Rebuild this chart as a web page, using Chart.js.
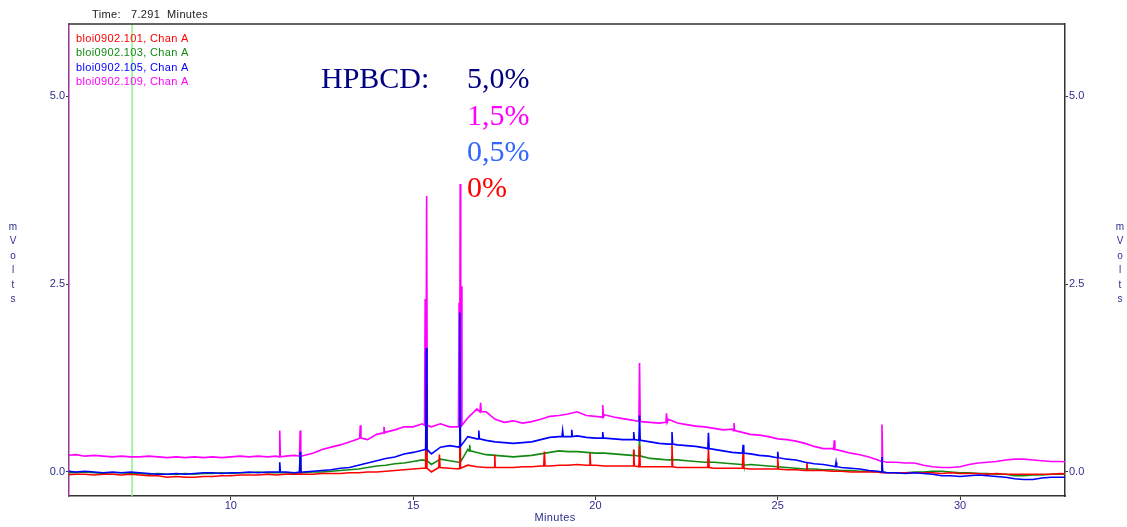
<!DOCTYPE html>
<html>
<head>
<meta charset="utf-8">
<script src="https://cdn.jsdelivr.net/npm/chart.js@4.4.1/dist/chart.umd.min.js"></script>
<style>
  html, body { margin: 0; padding: 0; background: #fff; }
  canvas { display: block; }
</style>
</head>
<body>
<canvas id="chrom" width="1127" height="527"></canvas>
<script>
// ---- data ------------------------------------------------------------------

// sample times (minutes), 0.25 min apart
const MINUTES = [
  5.5, 5.75, 6.0, 6.25, 6.5, 6.75, 7.0, 7.25,
  7.5, 7.75, 8.0, 8.25, 8.5, 8.75, 9.0, 9.25,
  9.5, 9.75, 10.0, 10.25, 10.5, 10.75, 11.0, 11.25,
  11.5, 11.75, 12.0, 12.25, 12.5, 12.75, 13.0, 13.25,
  13.5, 13.75, 14.0, 14.25, 14.5, 14.75, 15.0, 15.25,
  15.5, 15.75, 16.0, 16.25, 16.5, 16.75, 17.0, 17.25,
  17.5, 17.75, 18.0, 18.25, 18.5, 18.75, 19.0, 19.25,
  19.5, 19.75, 20.0, 20.25, 20.5, 20.75, 21.0, 21.25,
  21.5, 21.75, 22.0, 22.25, 22.5, 22.75, 23.0, 23.25,
  23.5, 23.75, 24.0, 24.25, 24.5, 24.75, 25.0, 25.25,
  25.5, 25.75, 26.0, 26.25, 26.5, 26.75, 27.0, 27.25,
  27.5, 27.75, 28.0, 28.25, 28.5, 28.75, 29.0, 29.25,
  29.5, 29.75, 30.0, 30.25, 30.5, 30.75, 31.0, 31.25,
  31.5, 31.75, 32.0, 32.25, 32.5, 32.75, 33.0
];

// baseline signal (mV) at each sample time
const RUN_101 = [ // red, 0%
  -0.04, -0.03, -0.03, -0.04, -0.03, -0.03, -0.04, -0.03,
  -0.04, -0.05, -0.05, -0.07, -0.06, -0.07, -0.07, -0.06,
  -0.06, -0.05, -0.05, -0.04, -0.04, -0.04, -0.03, -0.04,
  -0.03, -0.03, -0.03, -0.03, -0.02, -0.02, -0.02, -0.01,
  -0.01, 0.0, 0.0, 0.01, 0.02, 0.03, 0.04, 0.05,
  0.0, 0.06, 0.05, 0.04, 0.09, 0.07, 0.06, 0.06,
  0.06, 0.06, 0.07, 0.07, 0.08, 0.08, 0.09, 0.09,
  0.1, 0.09, 0.09, 0.08, 0.08, 0.08, 0.08, 0.07,
  0.07, 0.07, 0.07, 0.06, 0.06, 0.06, 0.06, 0.05,
  0.05, 0.05, 0.05, 0.04, 0.04, 0.04, 0.04, 0.03,
  0.03, 0.02, 0.02, 0.02, 0.01, 0.01, 0.0, 0.0,
  0.0, 0.0, -0.01, -0.01, -0.01, -0.01, -0.01, -0.01,
  -0.02, -0.01, -0.02, -0.02, -0.02, -0.03, -0.02, -0.03,
  -0.03, -0.03, -0.03, -0.03, -0.03, -0.02, -0.03
];
const RUN_103 = [ // green
  -0.01, -0.01, 0.0, -0.01, -0.02, -0.01, -0.01, -0.02,
  -0.02, -0.03, -0.02, -0.03, -0.03, -0.02, -0.03, -0.02,
  -0.02, -0.01, -0.02, -0.01, -0.01, 0.0, -0.01, -0.01,
  -0.01, -0.02, -0.01, 0.0, 0.0, 0.01, 0.02, 0.03,
  0.04, 0.06, 0.08, 0.09, 0.11, 0.12, 0.14, 0.16,
  0.1, 0.17, 0.15, 0.13, 0.3, 0.26, 0.23, 0.22,
  0.21, 0.2, 0.21, 0.22, 0.24, 0.26, 0.28, 0.27,
  0.27, 0.26, 0.25, 0.25, 0.24, 0.23, 0.22, 0.21,
  0.18, 0.17, 0.16, 0.16, 0.15, 0.14, 0.13, 0.13,
  0.12, 0.11, 0.1, 0.1, 0.09, 0.08, 0.07, 0.06,
  0.05, 0.04, 0.04, 0.03, 0.03, 0.02, 0.02, 0.01,
  0.01, 0.0, -0.01, -0.01, -0.01, 0.0, 0.0, 0.01,
  0.01, 0.0, -0.01, -0.01, -0.02, -0.02, -0.03, -0.03,
  -0.05, -0.05, -0.04, -0.04, -0.03, -0.03, -0.03
];
const RUN_105 = [ // blue
  0.01, 0.0, 0.01, 0.0, -0.01, 0.0, -0.01, 0.0,
  -0.01, -0.02, -0.03, -0.03, -0.02, -0.03, -0.02, -0.01,
  -0.01, -0.02, -0.01, -0.01, 0.0, -0.01, 0.0, 0.0,
  0.0, -0.01, 0.0, 0.01, 0.02, 0.03, 0.05, 0.06,
  0.09, 0.12, 0.15, 0.18, 0.2, 0.24, 0.26, 0.29,
  0.24, 0.33, 0.35, 0.33, 0.47, 0.44, 0.42, 0.4,
  0.39, 0.38, 0.39, 0.4, 0.43, 0.46, 0.47, 0.47,
  0.48, 0.46, 0.45, 0.45, 0.44, 0.43, 0.43, 0.42,
  0.4, 0.38, 0.37, 0.36, 0.35, 0.34, 0.32, 0.3,
  0.28, 0.26, 0.25, 0.24, 0.22, 0.21, 0.19, 0.17,
  0.16, 0.13, 0.11, 0.1, 0.08, 0.06, 0.05, 0.04,
  0.02, 0.01, -0.01, -0.01, -0.02, -0.01, -0.02, -0.03,
  -0.05, -0.05, -0.06, -0.05, -0.04, -0.05, -0.06, -0.07,
  -0.09, -0.1, -0.1, -0.08, -0.07, -0.07, -0.07
];
const RUN_109 = [ // magenta
  0.22, 0.23, 0.21, 0.22, 0.21, 0.2, 0.21, 0.2,
  0.2, 0.21, 0.2, 0.19, 0.2, 0.19, 0.2, 0.19,
  0.2, 0.19, 0.2, 0.21, 0.2, 0.21, 0.2, 0.21,
  0.21, 0.22, 0.22, 0.25, 0.3, 0.33, 0.36, 0.4,
  0.44, 0.43, 0.5, 0.53, 0.56, 0.6, 0.6, 0.64,
  0.6, 0.64, 0.6, 0.6, 0.72, 0.84, 0.8, 0.7,
  0.66, 0.68, 0.65, 0.67, 0.7, 0.74, 0.75, 0.77,
  0.8, 0.75, 0.74, 0.76, 0.73, 0.71, 0.69, 0.67,
  0.66, 0.65, 0.7, 0.65, 0.63, 0.61, 0.6, 0.58,
  0.56, 0.57, 0.53, 0.5, 0.49, 0.47, 0.44, 0.43,
  0.41, 0.38, 0.34, 0.31, 0.31, 0.28, 0.25, 0.23,
  0.2, 0.16, 0.13, 0.13, 0.12, 0.12, 0.09, 0.07,
  0.06, 0.06, 0.07, 0.1, 0.12, 0.13, 0.14, 0.16,
  0.17, 0.17, 0.16, 0.15, 0.14, 0.14, 0.13
];

// sharp peaks: [retention time, baseline under it, apex] in minutes / mV
const PEAKS_101 = [
  [11.9, -0.03, 0.08], [15.36, 0.05, 1.12], [15.72, 0.06, 0.23], [16.28, 0.05, 0.93],
  [17.24, 0.06, 0.23], [18.6, 0.08, 0.27], [19.85, 0.09, 0.25], [21.05, 0.08, 0.3],
  [21.21, 0.07, 0.35], [22.1, 0.07, 0.36], [23.1, 0.06, 0.32], [24.05, 0.05, 0.29],
  [25.0, 0.04, 0.19], [25.8, 0.02, 0.12], [27.86, -0.01, 0.03]
];
const PEAKS_103 = [
  [11.34, -0.01, 0.05], [11.9, -0.01, 0.2], [15.36, 0.15, 1.0], [16.28, 0.13, 1.09],
  [16.55, 0.28, 0.36], [21.05, 0.22, 0.29], [21.21, 0.21, 0.45], [22.1, 0.16, 0.22],
  [23.1, 0.13, 0.17], [24.05, 0.09, 0.13], [27.86, 0.0, 0.08]
];
const PEAKS_105 = [
  [11.34, 0.0, 0.13], [11.9, 0.0, 0.27], [15.36, 0.3, 1.65], [16.28, 0.34, 2.12],
  [16.8, 0.44, 0.55], [19.1, 0.47, 0.55], [19.35, 0.47, 0.56], [20.2, 0.45, 0.53],
  [21.05, 0.43, 0.53], [21.21, 0.42, 0.75], [22.1, 0.37, 0.53], [23.1, 0.31, 0.52],
  [24.05, 0.25, 0.36], [25.0, 0.19, 0.27], [26.6, 0.07, 0.13], [27.86, 0.0, 0.2]
];
const PEAKS_109 = [
  [11.34, 0.2, 0.55], [11.9, 0.21, 0.55], [13.55, 0.45, 0.62], [14.2, 0.52, 0.6],
  [15.33, 0.62, 2.3], [15.37, 0.62, 3.67], [16.26, 0.6, 2.25], [16.29, 0.6, 3.83],
  [16.32, 0.62, 2.47], [16.85, 0.8, 0.92], [20.2, 0.73, 0.89], [21.21, 0.67, 1.45],
  [21.95, 0.66, 0.78], [23.8, 0.55, 0.65], [26.55, 0.3, 0.42], [27.86, 0.14, 0.63]
];

const RUN_NAMES   = ["bloi0902.101, Chan A", "bloi0902.103, Chan A",
                     "bloi0902.105, Chan A", "bloi0902.109, Chan A"];
const CONC_TITLE  = "HPBCD:";
const CONC_LABELS = ["5,0%", "1,5%", "0,5%", "0%"];
const X_TICKS     = [10, 15, 20, 25, 30];
const Y_TICKS     = [0, 2.5, 5];
const X_RANGE     = [5.56, 32.88];
const Y_RANGE     = [-0.32, 5.96];
const CURSOR_MIN  = 7.291;

// ---- styling ----------------------------------------------------------------

const COL = { red: "#ff0000", green: "#128a12", blue: "#0000ff", magenta: "#ff00ff" };
const AXIS_TXT   = "#2e2e8f";
const SPIKE_HALF = 0.018;
const SANS = "'Liberation Sans', Arial, sans-serif";

function buildTrace(values, peaks) {
  const pts = MINUTES.map((t, i) => ({ x: t, y: values[i] }));
  peaks.forEach(([t, base, top]) => {
    pts.push({ x: t - SPIKE_HALF, y: base }, { x: t, y: top }, { x: t + SPIKE_HALF, y: base });
  });
  return pts.sort((a, b) => a.x - b.x);
}

function trace(label, values, peaks, color, order) {
  return {
    label, data: buildTrace(values, peaks), yAxisID: "y",
    borderColor: color, borderWidth: 1.6, pointRadius: 0,
    tension: 0, fill: false, order,
  };
}

const frame = {
  id: "frame",
  beforeDatasetsDraw(chart) {
    const { ctx, chartArea: a, scales } = chart;
    const cx = scales.x.getPixelForValue(CURSOR_MIN);
    ctx.save();
    ctx.strokeStyle = "#8ef08e";
    ctx.lineWidth = 1.5;
    ctx.beginPath(); ctx.moveTo(cx, a.top); ctx.lineTo(cx, a.bottom); ctx.stroke();
    ctx.restore();
  },
  afterDraw(chart) {
    const { ctx, chartArea: a } = chart;
    ctx.save();
    // top border
    ctx.strokeStyle = "#333";
    ctx.lineWidth = 1.5;
    ctx.beginPath(); ctx.moveTo(a.left, a.top); ctx.lineTo(a.right, a.top); ctx.stroke();

    // run legend
    const runCols = [COL.red, COL.green, COL.blue, COL.magenta];
    ctx.font = "11px " + SANS;
    ctx.letterSpacing = "0.35px";
    ctx.textBaseline = "middle";
    ctx.textAlign = "left";
    RUN_NAMES.forEach((n, i) => {
      ctx.fillStyle = runCols[i];
      ctx.fillText(n, 76, 39 + i * 14.4);
    });

    // header
    ctx.fillStyle = "#1a1a1a";
    ctx.fillText("Time:", 92, 15);
    ctx.fillText("7.291  Minutes", 131, 15);

    // axis titles
    ctx.fillStyle = AXIS_TXT;
    ctx.textAlign = "center";
    ctx.fillText("Minutes", (a.left + a.right) / 2 - 12, 518);
    ctx.font = "10px " + SANS;
    ctx.letterSpacing = "0px";
    "mVolts".split("").forEach((c, i) => {
      ctx.fillText(c, 13, 227 + i * 14.5);
      ctx.fillText(c, 1120, 227 + i * 14.5);
    });

    // concentration annotation
    ctx.font = "30px 'Liberation Serif', 'Times New Roman', serif";
    ctx.textAlign = "left";
    ctx.textBaseline = "alphabetic";
    ctx.fillStyle = "#000080";
    ctx.fillText(CONC_TITLE, 321, 88);
    const concCols = ["#000080", "#ff00ff", "#3366ff", "#ff0000"];
    const concY = [88, 125, 161, 197];
    CONC_LABELS.forEach((s, i) => {
      ctx.fillStyle = concCols[i];
      ctx.fillText(s, 467, concY[i]);
    });
    ctx.restore();
  },
};

const tickFont = { family: SANS, size: 11 };
const yScale = (pos, borderColor, width) => ({
  type: "linear", position: pos, min: Y_RANGE[0], max: Y_RANGE[1],
  afterBuildTicks: s => { s.ticks = Y_TICKS.map(v => ({ value: v })); },
  afterFit: s => { s.width = width; },
  ticks: { color: AXIS_TXT, font: tickFont, padding: 1, callback: v => v.toFixed(1) },
  grid: { drawOnChartArea: false, drawTicks: true, tickLength: 3, color: "#333" },
  border: { color: borderColor, width: 1.5 },
});

new Chart(document.getElementById("chrom"), {
  type: "line",
  data: {
    datasets: [
      trace(RUN_NAMES[2], RUN_105, PEAKS_105, COL.blue, 1),
      trace(RUN_NAMES[0], RUN_101, PEAKS_101, COL.red, 2),
      trace(RUN_NAMES[1], RUN_103, PEAKS_103, COL.green, 3),
      trace(RUN_NAMES[3], RUN_109, PEAKS_109, COL.magenta, 4),
    ],
  },
  options: {
    responsive: false,
    animation: false,
    layout: { padding: { top: 24, left: 0, right: 0, bottom: 0 } },
    plugins: { legend: { display: false }, tooltip: { enabled: false } },
    scales: {
      x: {
        type: "linear", min: X_RANGE[0], max: X_RANGE[1],
        afterBuildTicks: s => { s.ticks = X_TICKS.map(v => ({ value: v })); },
        afterFit: s => { s.height = 31; },
        ticks: { color: AXIS_TXT, font: tickFont, padding: -1, maxRotation: 0, autoSkip: false },
        grid: { drawOnChartArea: false, drawTicks: true, tickLength: 4, color: "#333" },
        border: { color: "#333", width: 1.5 },
      },
      y:  yScale("left", "#993399", 69),
      y2: yScale("right", "#333", 62),
    },
  },
  plugins: [frame],
});
</script>
</body>
</html>
